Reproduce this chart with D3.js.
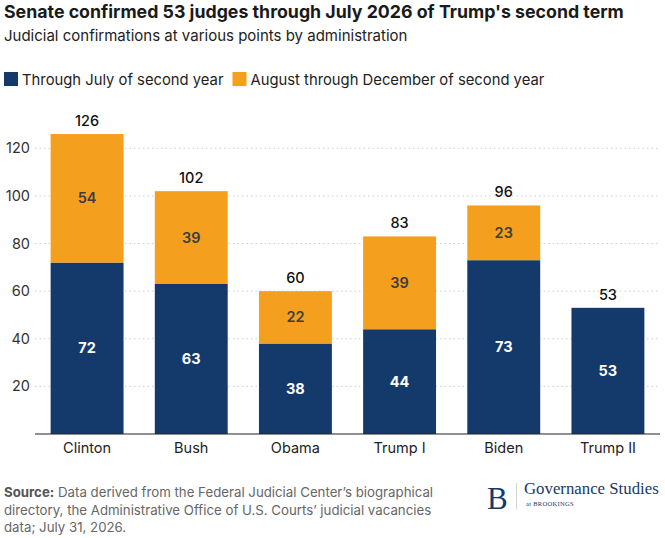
<!DOCTYPE html>
<html>
<head>
<meta charset="utf-8">
<script src="https://cdn.jsdelivr.net/npm/d3@7"></script>
<style>
  body { margin: 0; background: #fff; }
  text { font-family: Inter, "Noto Sans", sans-serif; }
  text.serif { font-family: "Liberation Serif", "DejaVu Serif", serif; }
</style>
</head>
<body>
<script>
const administrations = ["Clinton", "Bush", "Obama", "Trump I", "Biden", "Trump II"];
const throughJuly = [72, 63, 38, 44, 73, 53];
const augToDec = [54, 39, 22, 39, 23, 0];
const yTicks = [20, 40, 60, 80, 100, 120];
const seriesNames = ["Through July of second year", "August through December of second year"];

const NAVY = "#143a6b";
const ORANGE = "#f59f1f";

const width = 665, height = 538;
const svg = d3.select("body").append("svg")
    .attr("width", width)
    .attr("height", height);

// titles
svg.append("text")
    .attr("x", 4).attr("y", 18)
    .attr("font-size", 17.75).attr("font-weight", 700).attr("fill", "#1a1a1a")
    .text("Senate confirmed 53 judges through July 2026 of Trump's second term");
svg.append("text")
    .attr("x", 4).attr("y", 41)
    .attr("font-size", 15).attr("fill", "#222")
    .text("Judicial confirmations at various points by administration");

// legend
const legend = svg.append("g").attr("transform", "translate(4,72)");
let lx = 0;
seriesNames.forEach((name, i) => {
    legend.append("rect").attr("x", lx).attr("y", 0).attr("width", 14).attr("height", 14)
        .attr("fill", i === 0 ? NAVY : ORANGE);
    const t = legend.append("text").attr("x", lx + 18).attr("y", 12.5)
        .attr("font-size", 14.8).attr("fill", "#222").text(name);
    lx += 18 + t.node().getComputedTextLength() + 9;
});

// scales
const x = d3.scaleBand().domain(administrations).range([35, 660])
    .paddingInner(0.3).paddingOuter(0.15);
const y = d3.scaleLinear().domain([0, 120]).range([434, 148.3]);

// grid
svg.append("g").selectAll("line").data(yTicks).enter().append("line")
    .attr("x1", 35).attr("x2", 660)
    .attr("y1", d => y(d)).attr("y2", d => y(d))
    .attr("stroke", "#cfcfcf").attr("stroke-dasharray", "1.5,3");

// y axis labels
svg.append("g").selectAll("text").data(yTicks).enter().append("text")
    .attr("x", 30).attr("y", d => y(d) + 5)
    .attr("text-anchor", "end").attr("font-size", 14.5).attr("fill", "#333")
    .text(d => d);

const data = administrations.map((a, i) => ({ name: a, low: throughJuly[i], high: augToDec[i] }));

// bars
const bars = svg.append("g");
bars.selectAll(".low").data(data).enter().append("rect")
    .attr("x", d => x(d.name)).attr("width", x.bandwidth())
    .attr("y", d => y(d.low)).attr("height", d => y(0) - y(d.low))
    .attr("fill", NAVY);
bars.selectAll(".high").data(data.filter(d => d.high > 0)).enter().append("rect")
    .attr("x", d => x(d.name)).attr("width", x.bandwidth())
    .attr("y", d => y(d.low + d.high)).attr("height", d => y(d.low) - y(d.low + d.high))
    .attr("fill", ORANGE);

// segment labels
svg.append("g").selectAll("text").data(data).enter().append("text")
    .attr("x", d => x(d.name) + x.bandwidth() / 2)
    .attr("y", d => y(d.low / 2) + 5)
    .attr("text-anchor", "middle").attr("font-size", 14.5).attr("font-weight", 700)
    .attr("fill", "#fff").text(d => d.low);
svg.append("g").selectAll("text").data(data.filter(d => d.high > 0)).enter().append("text")
    .attr("x", d => x(d.name) + x.bandwidth() / 2)
    .attr("y", d => y(d.low + d.high / 2) + 5)
    .attr("text-anchor", "middle").attr("font-size", 14.5).attr("font-weight", 600)
    .attr("fill", "#3c3c3c").text(d => d.high);

// totals
svg.append("g").selectAll("text").data(data).enter().append("text")
    .attr("x", d => x(d.name) + x.bandwidth() / 2)
    .attr("y", d => y(d.low + d.high) - 8)
    .attr("text-anchor", "middle").attr("font-size", 14.5).attr("font-weight", 500)
    .attr("fill", "#111").text(d => d.low + d.high);

// x axis
const xAxis = svg.append("g").attr("transform", "translate(0,434)")
    .call(d3.axisBottom(x).tickSize(0).tickPadding(9));
xAxis.select(".domain").attr("stroke", "#222").attr("stroke-width", 1.2)
    .attr("d", "M35,0H660");
xAxis.selectAll("text").attr("font-size", 14.5).attr("fill", "#222")
    .attr("font-family", null);

// footer
const src = svg.append("text").attr("font-size", 13.25).attr("fill", "#666");
src.append("tspan").attr("x", 4).attr("y", 497).attr("font-weight", 700).attr("fill", "#555").text("Source:");
src.append("tspan").text(" Data derived from the Federal Judicial Center\u2019s biographical");
src.append("tspan").attr("x", 4).attr("y", 515).text("directory, the Administrative Office of U.S. Courts\u2019 judicial vacancies");
src.append("tspan").attr("x", 4).attr("y", 532).text("data; July 31, 2026.");

// logo
const logo = svg.append("g");
logo.append("text").attr("class", "serif").attr("x", 487).attr("y", 509)
    .attr("font-size", 31).attr("fill", NAVY).text("B");
logo.append("line").attr("x1", 516.5).attr("x2", 516.5).attr("y1", 483).attr("y2", 509)
    .attr("stroke", "#c8c8c8").attr("stroke-width", 0.8);
logo.append("text").attr("class", "serif").attr("x", 524).attr("y", 494)
    .attr("font-size", 16.8).attr("fill", NAVY).text("Governance Studies");
logo.append("text").attr("class", "serif").attr("x", 526).attr("y", 506)
    .attr("font-size", 6.5).attr("fill", NAVY).attr("letter-spacing", 0.3).text("at BROOKINGS");
</script>
</body>
</html>
